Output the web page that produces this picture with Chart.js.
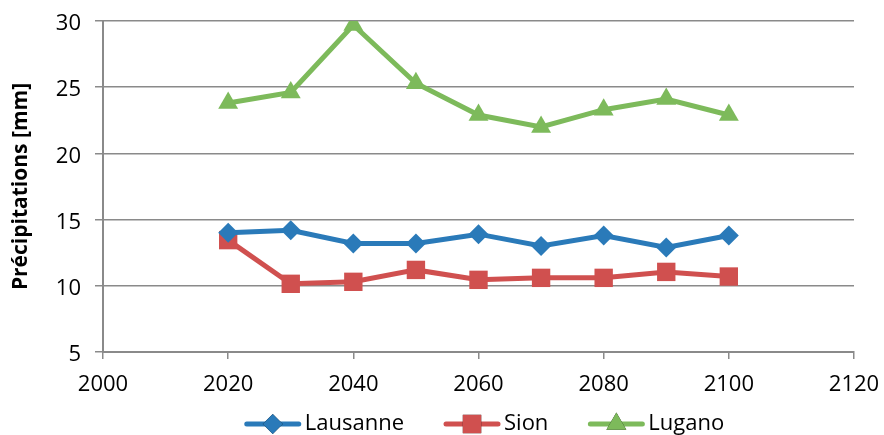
<!DOCTYPE html>
<html>
<head>
<meta charset="utf-8">
<script src="https://cdn.jsdelivr.net/npm/chart.js@4"></script>
<style>
  html, body { margin: 0; padding: 0; background: #fff; }
  #wrap { width: 884px; height: 435px; }
</style>
</head>
<body>
<div id="wrap"><canvas id="precipChart" width="884" height="435"></canvas></div>
<script>
const years = [2020, 2030, 2040, 2050, 2060, 2070, 2080, 2090, 2100];
const lausanne = [14.0, 14.2, 13.2, 13.2, 13.9, 13.0, 13.8, 12.9, 13.8];
const sion = [13.45, 10.15, 10.3, 11.2, 10.45, 10.6, 10.6, 11.05, 10.7];
const lugano = [23.8, 24.6, 29.7, 25.3, 22.9, 22.0, 23.3, 24.1, 22.9];
const xTicks = [2000, 2020, 2040, 2060, 2080, 2100, 2120];
const yTicks = [5, 10, 15, 20, 25, 30];

const FONT = "'Open Sans', 'Liberation Sans', sans-serif";
const GRID = '#8a8a8a';

function toPoints(vals) {
  return years.map((y, i) => ({ x: y, y: vals[i] }));
}

// legend drawn below the axis: line + marker + label
const bottomLegend = {
  id: 'bottomLegend',
  afterDraw(chart) {
    const ctx = chart.ctx;
    const sets = chart.data.datasets;
    const lineLen = 52, gap = 6, spacing = 42;
    ctx.save();
    ctx.font = '22px ' + FONT;
    const widths = sets.map(ds => lineLen + gap + ctx.measureText(ds.label).width);
    const total = widths.reduce((a, b) => a + b, 0) + spacing * (sets.length - 1);
    const area = chart.chartArea;
    let x = (area.left + area.right) / 2 + 7 - total / 2;
    const y = 424;
    sets.forEach((ds, i) => {
      ctx.strokeStyle = ds.borderColor;
      ctx.lineWidth = 5;
      ctx.lineCap = 'round';
      ctx.beginPath();
      ctx.moveTo(x, y);
      ctx.lineTo(x + lineLen, y);
      ctx.stroke();
      Chart.helpers.drawPoint(ctx, {
        pointStyle: ds.pointStyle,
        radius: ds.pointRadius,
        borderWidth: 0
      }, x + lineLen / 2, y);
      ctx.fillStyle = ds.borderColor;
      ctx.fill();
      ctx.fillStyle = '#000';
      ctx.textBaseline = 'middle';
      ctx.textAlign = 'left';
      ctx.fillText(ds.label, x + lineLen + gap, y);
      x += widths[i] + spacing;
    });
    ctx.restore();
  }
};

function series(label, vals, color, style, radius) {
  return {
    label: label,
    data: toPoints(vals),
    borderColor: color,
    backgroundColor: color,
    pointBackgroundColor: color,
    pointBorderColor: color,
    pointBorderWidth: 0,
    borderWidth: 5,
    pointStyle: style,
    pointRadius: radius,
    pointHoverRadius: radius,
    tension: 0
  };
}

const ctx = document.getElementById('precipChart').getContext('2d');
new Chart(ctx, {
  type: 'line',
  data: {
    datasets: [
      series('Lausanne', lausanne, '#2a7ab9', 'rectRot', 10),
      series('Sion', sion, '#d0504f', 'rect', 13),
      series('Lugano', lugano, '#7dba5b', 'triangle', 11.5)
    ]
  },
  options: {
    responsive: false,
    animation: false,
    layout: { padding: { top: 21, right: 30, left: 0, bottom: 0 } },
    plugins: {
      legend: { display: false },
      tooltip: { enabled: false }
    },
    scales: {
      x: {
        type: 'linear',
        min: 2000,
        max: 2120,
        afterBuildTicks(axis) { axis.ticks = xTicks.map(v => ({ value: v })); },
        afterFit(axis) {
          axis.height = 83;
          axis.paddingLeft = 0;
          axis.paddingRight = 0;
        },
        border: { color: GRID, width: 2 },
        grid: { drawOnChartArea: false, drawTicks: true, tickLength: 7, color: GRID, lineWidth: 1.5 },
        ticks: {
          color: '#000',
          font: { family: FONT, size: 22 },
          padding: 13,
          maxRotation: 0,
          callback: v => String(v)
        }
      },
      y: {
        min: 5,
        max: 30,
        afterBuildTicks(axis) { axis.ticks = yTicks.map(v => ({ value: v })); },
        afterFit(axis) {
          axis.width = 103;
          axis.paddingTop = 0;
          axis.paddingBottom = 0;
        },
        border: { color: GRID, width: 2 },
        grid: { color: GRID, lineWidth: 1.5, tickLength: 8 },
        ticks: { color: '#000', font: { family: FONT, size: 22 }, padding: 14, labelOffset: 3 },
        title: {
          display: true,
          text: 'Précipitations [mm]',
          color: '#000',
          font: { family: FONT, size: 21, weight: 'bold' },
          padding: { top: 8, bottom: 0 }
        }
      }
    }
  },
  plugins: [bottomLegend]
});
</script>
</body>
</html>
